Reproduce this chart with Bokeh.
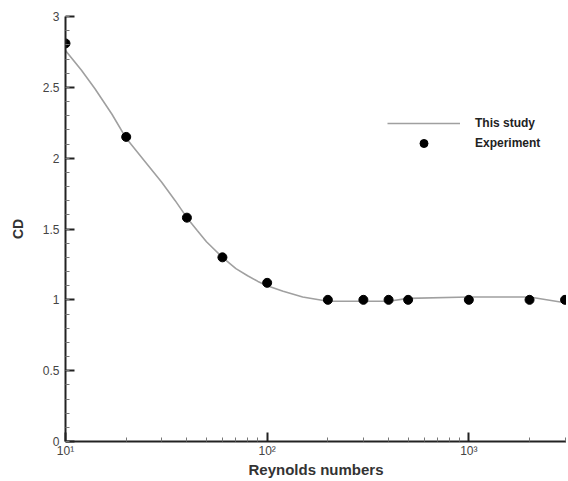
from bokeh.plotting import figure
from bokeh.models import FixedTicker, Range1d, Legend, LegendItem
from bokeh.embed import file_html
from bokeh.resources import INLINE

# Experiment points
exp_re = [10, 20, 40, 60, 100, 200, 300, 400, 500, 1000, 2000, 3000]
exp_cd = [2.81, 2.15, 1.58, 1.30, 1.12, 1.00, 1.00, 1.00, 1.00, 1.00, 1.00, 1.00]

# This study (simulation curve)
sim_re = [10, 12, 14, 17, 20, 25, 30, 35, 40, 45, 50, 60, 70, 80, 90, 100, 120, 150, 200,
          300, 400, 500, 1000, 2000, 3000]
sim_cd = [2.76, 2.62, 2.49, 2.31, 2.14, 1.97, 1.83, 1.70, 1.58, 1.49, 1.41, 1.30, 1.22, 1.17,
          1.13, 1.10, 1.06, 1.02, 0.99, 0.99, 0.99, 1.01, 1.02, 1.02, 0.98]

x_major = [10, 100, 1000]
x_labels = {10: "10¹", 100: "10²", 1000: "10³"}
x_minor = [20, 30, 40, 50, 60, 70, 80, 90, 200, 300, 400, 500, 600, 700, 800, 900, 2000, 3000]
y_major = [0, 0.5, 1, 1.5, 2, 2.5, 3]
y_labels = {0: "0", 0.5: "0.5", 1: "1", 1.5: "1.5", 2: "2", 2.5: "2.5", 3: "3"}
y_minor = [round(i * 0.1, 1) for i in range(31)]

p = figure(width=566, height=480, x_axis_type="log",
           x_range=Range1d(10, 3050), y_range=Range1d(0, 3),
           output_backend="svg", toolbar_location=None,
           min_border_left=65, min_border_right=0, min_border_top=16, min_border_bottom=36)
p.outline_line_color = None
p.grid.visible = False
p.background_fill_color = "white"

line = p.line(sim_re, sim_cd, line_color="#a0a0a0", line_width=1.6)
pts = p.scatter(exp_re, exp_cd, size=9, color="black")

font = "Liberation Sans"
for ax in (p.xaxis[0], p.yaxis[0]):
    ax.axis_line_color = "#222222"
    ax.axis_line_width = 2
    ax.major_tick_in = 9
    ax.major_tick_out = 0
    ax.minor_tick_in = 4
    ax.minor_tick_out = 0
    ax.major_tick_line_color = "#222222"
    ax.major_tick_line_width = 2
    ax.minor_tick_line_color = "#777777"
    ax.major_label_text_font = font
    ax.major_label_text_font_size = "12px"
    ax.major_label_text_color = "#444444"
    ax.axis_label_text_font = font
    ax.axis_label_text_font_style = "bold"
    ax.axis_label_text_color = "#333333"

p.xaxis[0].ticker = FixedTicker(ticks=x_major, minor_ticks=x_minor)
p.xaxis[0].major_label_overrides = x_labels
p.xaxis[0].major_label_standoff = 2
p.xaxis[0].axis_label = "Reynolds numbers"
p.xaxis[0].axis_label_text_font_size = "15px"
p.xaxis[0].axis_label_standoff = 0

p.yaxis[0].ticker = FixedTicker(ticks=y_major, minor_ticks=y_minor)
p.yaxis[0].major_label_overrides = y_labels
p.yaxis[0].major_label_standoff = 6
p.yaxis[0].axis_label = "CD"
p.yaxis[0].axis_label_text_font_size = "14px"
p.yaxis[0].axis_label_standoff = 14

legend = Legend(items=[LegendItem(label="This study", renderers=[line]),
                       LegendItem(label="Experiment", renderers=[pts])],
                location=(322, 288), padding=0, margin=0,
                border_line_color=None, background_fill_alpha=0,
                glyph_width=73, glyph_height=20, label_height=20,
                label_standoff=15, spacing=0,
                label_text_font=font, label_text_font_style="bold",
                label_text_font_size="12px", label_text_color="#222222")
p.add_layout(legend)

open("out.html", "w").write(file_html(p, INLINE))
